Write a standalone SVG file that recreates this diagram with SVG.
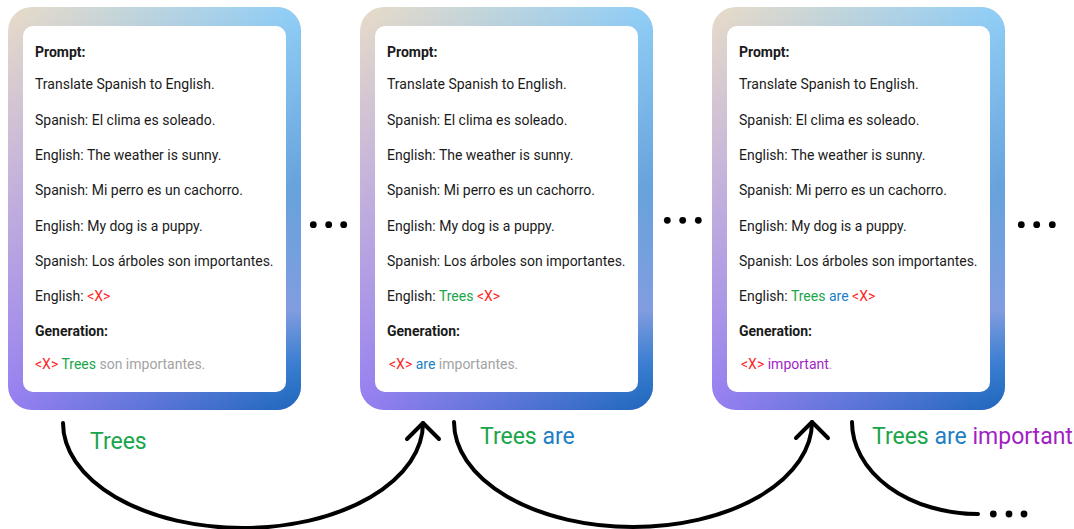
<svg xmlns="http://www.w3.org/2000/svg" xmlns:xlink="http://www.w3.org/1999/xlink" width="1074" height="529" viewBox="0 0 1074 529">
<style>
text{font-family:Roboto,"Noto Sans","Liberation Sans",sans-serif;}
.t{font-size:14px;fill:#1a1a1a;}
.b{font-weight:700;}
.red{fill:#ff1f1f;}
.grn{fill:#17a649;}
.blu{fill:#2180c4;}
.pur{fill:#a11fc4;}
.gry{fill:#a3a3a3;}
.lbl{font-size:23px;}
.conn{fill:none;stroke:#000;stroke-width:4;stroke-linecap:round;}
.dot{fill:#000;}
</style>
<defs>
<linearGradient id="gL" x1="0" y1="0" x2="0" y2="1">
<stop offset="0" stop-color="#e9dcc8"/>
<stop offset="0.45" stop-color="#c6b2dc"/>
<stop offset="1" stop-color="#977ff2"/>
</linearGradient>
<linearGradient id="gR" x1="0" y1="0" x2="0" y2="1">
<stop offset="0" stop-color="#8ecef7"/>
<stop offset="0.45" stop-color="#64a2dc"/>
<stop offset="0.75" stop-color="#7f9ddf"/>
<stop offset="0.88" stop-color="#3a7fd0"/>
<stop offset="1" stop-color="#1b67bb"/>
</linearGradient>
<linearGradient id="gM" x1="0" y1="0" x2="1" y2="0">
<stop offset="0" stop-color="#000"/>
<stop offset="1" stop-color="#fff"/>
</linearGradient>
<mask id="m" maskContentUnits="objectBoundingBox">
<rect width="1" height="1" fill="url(#gM)"/>
</mask>
<g id="cardbg">
<rect width="293" height="403" rx="24" fill="url(#gL)"/>
<rect width="293" height="403" rx="24" fill="url(#gR)" mask="url(#m)"/>
<rect x="15" y="19" width="263" height="366" rx="10" fill="#fff"/>
</g>
<marker id="chev" viewBox="-20 -20 40 40" refX="0" refY="0" markerWidth="40" markerHeight="40" markerUnits="userSpaceOnUse" orient="auto" overflow="visible">
<path d="M-16,-16 L0,0 L-16,16" fill="none" stroke="#000" stroke-width="4" stroke-linecap="round" stroke-linejoin="round"/>
</marker>
</defs>

<g id="card1">
<use xlink:href="#cardbg" href="#cardbg" x="8" y="7"/>
<g class="t">
<text x="35" y="57" class="b">Prompt:</text>
<text x="35" y="89">Translate Spanish to English.</text>
<text x="35" y="124.5">Spanish: El clima es soleado.</text>
<text x="35" y="160">English: The weather is sunny.</text>
<text x="35" y="195">Spanish: Mi perro es un cachorro.</text>
<text x="35" y="230.5">English: My dog is a puppy.</text>
<text x="35" y="266">Spanish: Los árboles son importantes.</text>
<text x="35" y="301">English: <tspan class="red">&lt;X&gt;</tspan></text>
<text x="35" y="336" class="b">Generation:</text>
<text x="35" y="369"><tspan class="red">&lt;X&gt;</tspan> <tspan class="grn">Trees</tspan> <tspan class="gry">son importantes.</tspan></text>
</g>
</g>

<g id="card2">
<use xlink:href="#cardbg" href="#cardbg" x="360" y="7"/>
<g class="t">
<text x="387" y="57" class="b">Prompt:</text>
<text x="387" y="89">Translate Spanish to English.</text>
<text x="387" y="124.5">Spanish: El clima es soleado.</text>
<text x="387" y="160">English: The weather is sunny.</text>
<text x="387" y="195">Spanish: Mi perro es un cachorro.</text>
<text x="387" y="230.5">English: My dog is a puppy.</text>
<text x="387" y="266">Spanish: Los árboles son importantes.</text>
<text x="387" y="301">English: <tspan class="grn">Trees</tspan> <tspan class="red">&lt;X&gt;</tspan></text>
<text x="387" y="336" class="b">Generation:</text>
<text x="389" y="369"><tspan class="red">&lt;X&gt;</tspan> <tspan class="blu">are</tspan> <tspan class="gry">importantes.</tspan></text>
</g>
</g>

<g id="card3">
<use xlink:href="#cardbg" href="#cardbg" x="712" y="7"/>
<g class="t">
<text x="739" y="57" class="b">Prompt:</text>
<text x="739" y="89">Translate Spanish to English.</text>
<text x="739" y="124.5">Spanish: El clima es soleado.</text>
<text x="739" y="160">English: The weather is sunny.</text>
<text x="739" y="195">Spanish: Mi perro es un cachorro.</text>
<text x="739" y="230.5">English: My dog is a puppy.</text>
<text x="739" y="266">Spanish: Los árboles son importantes.</text>
<text x="739" y="301">English: <tspan class="grn">Trees</tspan> <tspan class="blu">are</tspan> <tspan class="red">&lt;X&gt;</tspan></text>
<text x="739" y="336" class="b">Generation:</text>
<text x="741" y="369"><tspan class="red">&lt;X&gt;</tspan> <tspan class="pur">important</tspan><tspan class="gry">.</tspan></text>
</g>
</g>

<g id="ellipses">
<circle class="dot" cx="313.3" cy="224.7" r="3.4"/>
<circle class="dot" cx="328.7" cy="224.7" r="3.4"/>
<circle class="dot" cx="343.7" cy="224.7" r="3.4"/>
<circle class="dot" cx="667.3" cy="220.3" r="3.4"/>
<circle class="dot" cx="682.7" cy="220.3" r="3.4"/>
<circle class="dot" cx="698.3" cy="220.3" r="3.4"/>
<circle class="dot" cx="1021.3" cy="224.7" r="3.4"/>
<circle class="dot" cx="1036.7" cy="224.7" r="3.4"/>
<circle class="dot" cx="1052.3" cy="224.7" r="3.4"/>
</g>

<g id="connectors">
<path class="conn" d="M63,423 A180,105 0 0 0 423,423" marker-end="url(#chev)"/>
<path class="conn" d="M454,422 A179,105 0 0 0 812,422" marker-end="url(#chev)"/>
<path class="conn" d="M852,422 A126,92 0 0 0 978,514"/>
<circle class="dot" cx="993.3" cy="514" r="3.4"/>
<circle class="dot" cx="1009" cy="514" r="3.4"/>
<circle class="dot" cx="1024" cy="514" r="3.4"/>
</g>

<g id="labels">
<text class="lbl grn" x="90" y="449">Trees</text>
<text class="lbl" x="480" y="444"><tspan class="grn">Trees</tspan> <tspan class="blu">are</tspan></text>
<text class="lbl" x="872" y="444"><tspan class="grn">Trees</tspan> <tspan class="blu">are</tspan> <tspan class="pur">important</tspan></text>
</g>
</svg>
